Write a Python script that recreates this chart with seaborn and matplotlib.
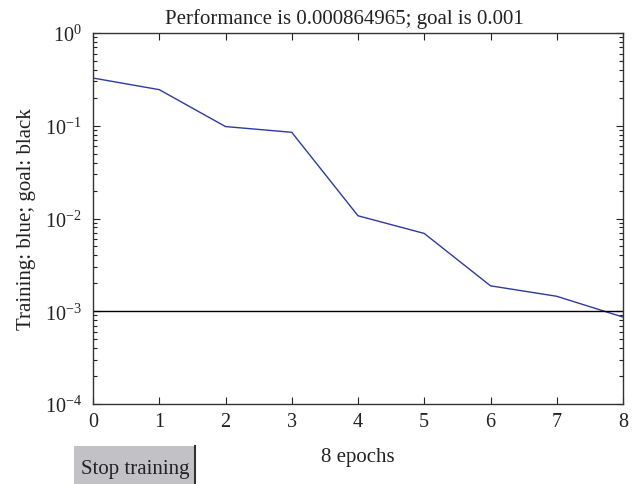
import numpy as np
import pandas as pd
import matplotlib
matplotlib.use("Agg")
import matplotlib.pyplot as plt
from matplotlib.ticker import LogLocator, NullFormatter
import seaborn as sns

# Training performance per epoch
epochs = [0, 1, 2, 3, 4, 5, 6, 7, 8]
perf = [0.327, 0.245, 0.098, 0.085, 0.0107, 0.0069, 0.00188, 0.00145, 0.000865]
goal = 0.001
title = "Performance is 0.000864965; goal is 0.001"

sns.set_style("ticks")
plt.rcParams['font.family'] = ['Liberation Serif', 'DejaVu Serif']
plt.rcParams['mathtext.fontset'] = 'stix'

df = pd.DataFrame({'epoch': epochs, 'perf': perf})

fig = plt.figure(figsize=(6.35, 4.85), dpi=100)
ax = fig.add_axes([93/635, 1 - 405/485, 530/635, 371/485])

sns.lineplot(data=df, x='epoch', y='perf', color='#2e3a9e', linewidth=1.0, ax=ax)
ax.axhline(goal, color='black', linewidth=1.0)

ax.set_yscale('log')
ax.set_ylim(1e-4, 1e0)
ax.set_xlim(0, 8)
ax.set_xticks(epochs)
ax.yaxis.set_major_locator(LogLocator(base=10, numticks=10))
ax.yaxis.set_minor_locator(LogLocator(base=10, subs=np.arange(2, 10), numticks=20))
ax.yaxis.set_minor_formatter(NullFormatter())

ax.tick_params(which='both', direction='in', top=True, right=True, labelsize=14.5, colors='#222222')
ax.tick_params(which='major', length=5, width=0.8)
ax.tick_params(which='minor', length=3, width=0.8)
ax.tick_params(axis='x', pad=6)
ax.tick_params(axis='y', which='major', pad=8)
for s in ax.spines.values():
    s.set_linewidth(1.0)
    s.set_color('#333333')

ax.set_title(title, fontsize=15, pad=7, color='#222222', x=0.475)
ax.set_xlabel("8 epochs", fontsize=15, labelpad=11, color='#222222')
ax.set_ylabel("Training: blue; goal: black", fontsize=15, labelpad=6, color='#222222')

# "Stop training" button
bax = fig.add_axes([74/635, 0, 121/635, 38/485])
bax.set_facecolor('#c2c2c6')
bax.set_xticks([])
bax.set_yticks([])
for k in ['top', 'left', 'bottom']:
    bax.spines[k].set_visible(False)
bax.spines['right'].set_color('#333333')
bax.spines['right'].set_linewidth(1.5)
bax.text(0.51, 0.42, "Stop training", ha='center', va='center', fontsize=15, color='#222222',
         transform=bax.transAxes)

fig.savefig("out.png", dpi=100)
